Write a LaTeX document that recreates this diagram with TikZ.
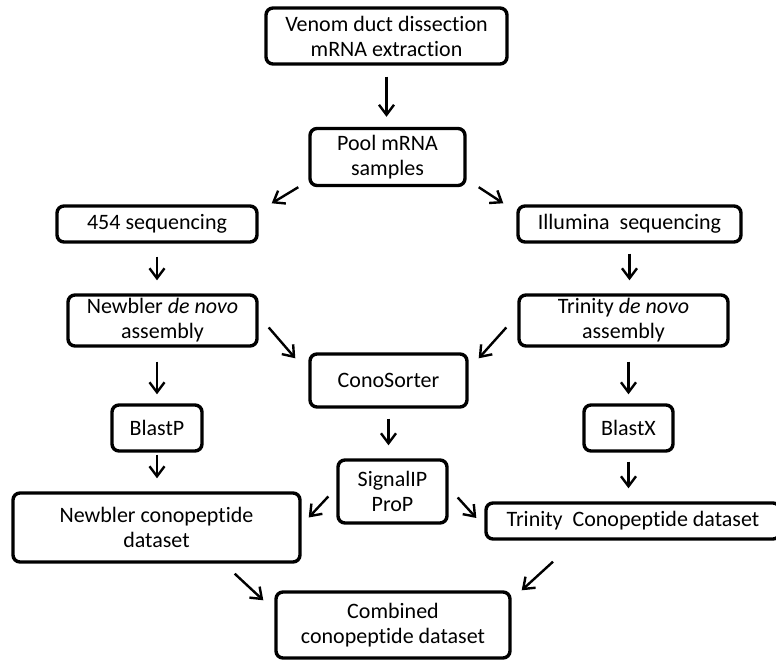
\documentclass[tikz,border=0pt]{standalone}
\usepackage{fontspec}
\setmainfont{Carlito}[Ligatures=NoCommon]
\usetikzlibrary{arrows.meta}

\begin{document}
\begin{tikzpicture}[x=1pt,y=1pt]
    \tikzstyle{box}=[
      draw=black,
      line width=3.4pt,
      rounded corners=7pt,
      align=center,
      inner sep=0pt,
      font=\fontsize{22}{25}\selectfont,
    ]
    \tikzstyle{dedge}=[line width=2.4pt,-{Straight Barb[length=10pt,width=15pt]},draw=black]
    \useasboundingbox (0,0) rectangle (776,660);

    \node[box,minimum width=241pt,minimum height=56pt] (venom) at (386.5,624) {Venom duct dissection\\mRNA extraction};
    \node[box,minimum width=155pt,minimum height=57pt] (pool) at (387.5,503) {Pool mRNA\\samples};
    \node[box,minimum width=200pt,minimum height=36pt] (seq454) at (157,436) {454 sequencing};
    \node[box,minimum width=223pt,minimum height=36pt] (illumina) at (629.5,436) {Illumina\ \ sequencing};
    \node[box,minimum width=189pt,minimum height=51pt] (newbler) at (162.5,339.5) {Newbler \textit{de novo}\\assembly};
    \node[box,minimum width=209pt,minimum height=51pt] (trinity) at (623.5,339.5) {Trinity \textit{de novo}\\assembly};
    \node[box,minimum width=157pt,minimum height=53pt] (conosorter) at (388.5,279.5) {ConoSorter};
    \node[box,minimum width=90pt,minimum height=46pt] (blastp) at (157,232) {BlastP};
    \node[box,minimum width=89pt,minimum height=46pt] (blastx) at (628.5,232) {BlastX};
    \node[box,minimum width=109pt,minimum height=63pt] (signalp) at (392.5,168.5) {SignalIP\\ProP};
    \node[box,minimum width=287pt,minimum height=69pt] (newbler set) at (156.5,132.5) {Newbler conopeptide\\dataset};
    \node[box,minimum width=294pt,minimum height=36pt] (trinity set) at (633,139) {Trinity\ \ Conopeptide dataset};
    \node[box,minimum width=234pt,minimum height=66pt] (combined) at (393,35) {Combined\\conopeptide dataset};

    \draw[dedge,shorten <=11pt,shorten >=10pt] (venom.south)--(venom.south |- pool.north);
    \draw[dedge] ([xshift=-10pt]pool.south west)--([xshift=13pt,yshift=1pt]seq454.north east);
    \draw[dedge] ([xshift=12pt]pool.south east)--([xshift=-13pt,yshift=1pt]illumina.north west);
    \draw[dedge,shorten <=13pt,shorten >=13pt] (seq454.south)--(seq454.south |- newbler.north);
    \draw[dedge,shorten <=10pt,shorten >=13pt] (illumina.south)--(illumina.south |- trinity.north);
    \draw[dedge] ([xshift=10pt,yshift=-7pt]newbler.east)--([xshift=-13pt,yshift=-6pt]conosorter.north west);
    \draw[dedge] ([xshift=-11pt,yshift=-7pt]trinity.west)--([xshift=10pt,yshift=-6pt]conosorter.north east);
    \draw[dedge,shorten <=14pt,shorten >=9pt] (blastp.north |- newbler.south)--(blastp.north);
    \draw[dedge,shorten <=14pt,shorten >=9pt] (blastx.north |- trinity.south)--(blastx.north);
    \draw[dedge,shorten <=10pt,shorten >=13pt] (conosorter.south)--(conosorter.south |- signalp.north);
    \draw[dedge,shorten <=2pt,shorten >=13pt] (blastp.south)--(blastp.south |- newbler set.north);
    \draw[dedge,shorten <=9pt,shorten >=13pt] (blastx.south)--(blastx.south |- trinity set.north);
    \draw[dedge] ([xshift=-8pt,yshift=-5pt]signalp.west)--([xshift=7pt,yshift=10pt]newbler set.east);
    \draw[dedge] ([xshift=9pt,yshift=-6pt]signalp.east)--([xshift=-8pt,yshift=3pt]trinity set.west);
    \draw[dedge] ([xshift=-67pt,yshift=-10pt]newbler set.south east)--([xshift=-11pt,yshift=-10pt]combined.north west);
    \draw[dedge] ([xshift=-80pt,yshift=-21pt]trinity set.south)--([xshift=10pt]combined.north east);
  \end{tikzpicture}
\end{document}
